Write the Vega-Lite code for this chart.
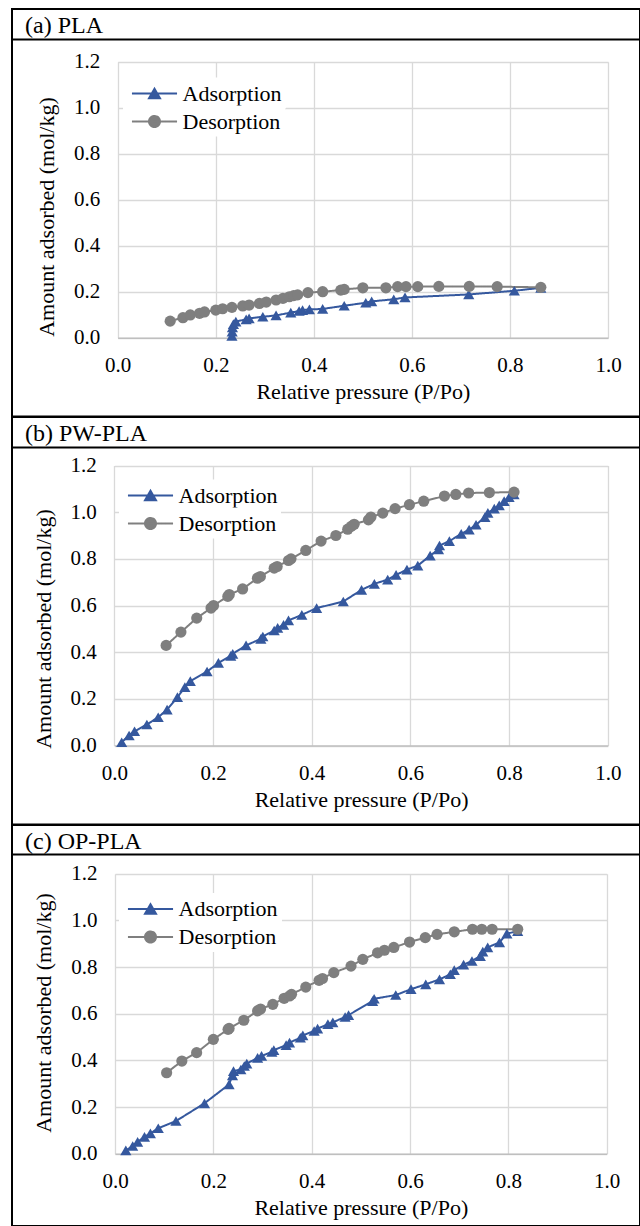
{
  "$schema": "https://vega.github.io/schema/vega-lite/v6.json",
  "background": "white",
  "padding": {"left": 10, "top": 8, "right": 0, "bottom": 0},
  "bounds": "flush",
  "spacing": 0,
  "config": {
    "font": "Liberation Serif",
    "view": {"stroke": "black", "strokeWidth": 2},
    "axis": {
      "labelFlush": false,
      "labelOverlap": false,
      "labelFont": "Liberation Serif",
      "labelFontSize": 21,
      "labelColor": "black",
      "titleFont": "Liberation Serif",
      "titleFontSize": 22,
      "titleFontWeight": "normal",
      "titleColor": "black",
      "ticks": false,
      "gridColor": "#D9D9D9",
      "gridWidth": 1.3
    },
    "legend": {
      "labelFont": "Liberation Serif",
      "labelFontSize": 22,
      "labelColor": "black",
      "labelLimit": 400,
      "symbolSize": 484,
      "symbolStrokeWidth": 2,
      "symbolOffset": 15.5,
      "labelOffset": 16,
      "padding": 4,
      "fillColor": "white"
    }
  },
  "datasets": {
    "iso": [
      {"p":"a","s":"Adsorption","x":0.233,"y":0.008},
      {"p":"a","s":"Adsorption","x":0.2335,"y":0.026},
      {"p":"a","s":"Adsorption","x":0.234,"y":0.045},
      {"p":"a","s":"Adsorption","x":0.236,"y":0.059},
      {"p":"a","s":"Adsorption","x":0.241,"y":0.07},
      {"p":"a","s":"Adsorption","x":0.262,"y":0.08},
      {"p":"a","s":"Adsorption","x":0.268,"y":0.084},
      {"p":"a","s":"Adsorption","x":0.296,"y":0.091},
      {"p":"a","s":"Adsorption","x":0.323,"y":0.097},
      {"p":"a","s":"Adsorption","x":0.353,"y":0.109},
      {"p":"a","s":"Adsorption","x":0.37,"y":0.116},
      {"p":"a","s":"Adsorption","x":0.377,"y":0.12},
      {"p":"a","s":"Adsorption","x":0.391,"y":0.123},
      {"p":"a","s":"Adsorption","x":0.418,"y":0.125},
      {"p":"a","s":"Adsorption","x":0.462,"y":0.139},
      {"p":"a","s":"Adsorption","x":0.506,"y":0.152},
      {"p":"a","s":"Adsorption","x":0.518,"y":0.158},
      {"p":"a","s":"Adsorption","x":0.563,"y":0.167},
      {"p":"a","s":"Adsorption","x":0.586,"y":0.175},
      {"p":"a","s":"Adsorption","x":0.716,"y":0.188},
      {"p":"a","s":"Adsorption","x":0.809,"y":0.204},
      {"p":"a","s":"Adsorption","x":0.863,"y":0.217},
      {"p":"a","s":"Desorption","x":0.107,"y":0.072},
      {"p":"a","s":"Desorption","x":0.133,"y":0.087},
      {"p":"a","s":"Desorption","x":0.148,"y":0.099},
      {"p":"a","s":"Desorption","x":0.167,"y":0.106},
      {"p":"a","s":"Desorption","x":0.177,"y":0.112},
      {"p":"a","s":"Desorption","x":0.2,"y":0.12},
      {"p":"a","s":"Desorption","x":0.214,"y":0.126},
      {"p":"a","s":"Desorption","x":0.233,"y":0.132},
      {"p":"a","s":"Desorption","x":0.255,"y":0.138},
      {"p":"a","s":"Desorption","x":0.268,"y":0.142},
      {"p":"a","s":"Desorption","x":0.289,"y":0.149},
      {"p":"a","s":"Desorption","x":0.303,"y":0.155},
      {"p":"a","s":"Desorption","x":0.323,"y":0.164},
      {"p":"a","s":"Desorption","x":0.337,"y":0.171},
      {"p":"a","s":"Desorption","x":0.35,"y":0.178},
      {"p":"a","s":"Desorption","x":0.359,"y":0.183},
      {"p":"a","s":"Desorption","x":0.367,"y":0.186},
      {"p":"a","s":"Desorption","x":0.388,"y":0.196},
      {"p":"a","s":"Desorption","x":0.418,"y":0.2},
      {"p":"a","s":"Desorption","x":0.455,"y":0.207},
      {"p":"a","s":"Desorption","x":0.462,"y":0.21},
      {"p":"a","s":"Desorption","x":0.5,"y":0.217},
      {"p":"a","s":"Desorption","x":0.547,"y":0.217},
      {"p":"a","s":"Desorption","x":0.571,"y":0.222},
      {"p":"a","s":"Desorption","x":0.588,"y":0.222},
      {"p":"a","s":"Desorption","x":0.612,"y":0.222},
      {"p":"a","s":"Desorption","x":0.655,"y":0.223},
      {"p":"a","s":"Desorption","x":0.717,"y":0.223},
      {"p":"a","s":"Desorption","x":0.774,"y":0.222},
      {"p":"a","s":"Desorption","x":0.863,"y":0.219},
      {"p":"b","s":"Adsorption","x":0.015,"y":0.014},
      {"p":"b","s":"Adsorption","x":0.03,"y":0.043},
      {"p":"b","s":"Adsorption","x":0.041,"y":0.061},
      {"p":"b","s":"Adsorption","x":0.066,"y":0.09},
      {"p":"b","s":"Adsorption","x":0.089,"y":0.121},
      {"p":"b","s":"Adsorption","x":0.107,"y":0.154},
      {"p":"b","s":"Adsorption","x":0.128,"y":0.207},
      {"p":"b","s":"Adsorption","x":0.143,"y":0.25},
      {"p":"b","s":"Adsorption","x":0.154,"y":0.276},
      {"p":"b","s":"Adsorption","x":0.188,"y":0.317},
      {"p":"b","s":"Adsorption","x":0.211,"y":0.354},
      {"p":"b","s":"Adsorption","x":0.236,"y":0.384},
      {"p":"b","s":"Adsorption","x":0.24,"y":0.393},
      {"p":"b","s":"Adsorption","x":0.267,"y":0.429},
      {"p":"b","s":"Adsorption","x":0.297,"y":0.457},
      {"p":"b","s":"Adsorption","x":0.301,"y":0.467},
      {"p":"b","s":"Adsorption","x":0.324,"y":0.493},
      {"p":"b","s":"Adsorption","x":0.331,"y":0.504},
      {"p":"b","s":"Adsorption","x":0.343,"y":0.517},
      {"p":"b","s":"Adsorption","x":0.353,"y":0.536},
      {"p":"b","s":"Adsorption","x":0.38,"y":0.56},
      {"p":"b","s":"Adsorption","x":0.41,"y":0.589},
      {"p":"b","s":"Adsorption","x":0.464,"y":0.617},
      {"p":"b","s":"Adsorption","x":0.501,"y":0.667},
      {"p":"b","s":"Adsorption","x":0.527,"y":0.693},
      {"p":"b","s":"Adsorption","x":0.554,"y":0.711},
      {"p":"b","s":"Adsorption","x":0.571,"y":0.731},
      {"p":"b","s":"Adsorption","x":0.593,"y":0.754},
      {"p":"b","s":"Adsorption","x":0.615,"y":0.771},
      {"p":"b","s":"Adsorption","x":0.64,"y":0.814},
      {"p":"b","s":"Adsorption","x":0.657,"y":0.84},
      {"p":"b","s":"Adsorption","x":0.659,"y":0.857},
      {"p":"b","s":"Adsorption","x":0.679,"y":0.876},
      {"p":"b","s":"Adsorption","x":0.703,"y":0.907},
      {"p":"b","s":"Adsorption","x":0.719,"y":0.925},
      {"p":"b","s":"Adsorption","x":0.733,"y":0.946},
      {"p":"b","s":"Adsorption","x":0.751,"y":0.979},
      {"p":"b","s":"Adsorption","x":0.757,"y":0.997},
      {"p":"b","s":"Adsorption","x":0.77,"y":1.015},
      {"p":"b","s":"Adsorption","x":0.78,"y":1.029},
      {"p":"b","s":"Adsorption","x":0.79,"y":1.047},
      {"p":"b","s":"Adsorption","x":0.8,"y":1.064},
      {"p":"b","s":"Adsorption","x":0.81,"y":1.076},
      {"p":"b","s":"Desorption","x":0.105,"y":0.429},
      {"p":"b","s":"Desorption","x":0.135,"y":0.486},
      {"p":"b","s":"Desorption","x":0.167,"y":0.546},
      {"p":"b","s":"Desorption","x":0.196,"y":0.589},
      {"p":"b","s":"Desorption","x":0.201,"y":0.6},
      {"p":"b","s":"Desorption","x":0.23,"y":0.639},
      {"p":"b","s":"Desorption","x":0.233,"y":0.647},
      {"p":"b","s":"Desorption","x":0.26,"y":0.671},
      {"p":"b","s":"Desorption","x":0.29,"y":0.717},
      {"p":"b","s":"Desorption","x":0.296,"y":0.724},
      {"p":"b","s":"Desorption","x":0.324,"y":0.76},
      {"p":"b","s":"Desorption","x":0.33,"y":0.767},
      {"p":"b","s":"Desorption","x":0.353,"y":0.793},
      {"p":"b","s":"Desorption","x":0.358,"y":0.8},
      {"p":"b","s":"Desorption","x":0.388,"y":0.836},
      {"p":"b","s":"Desorption","x":0.419,"y":0.876},
      {"p":"b","s":"Desorption","x":0.449,"y":0.9},
      {"p":"b","s":"Desorption","x":0.473,"y":0.927},
      {"p":"b","s":"Desorption","x":0.48,"y":0.939},
      {"p":"b","s":"Desorption","x":0.486,"y":0.948},
      {"p":"b","s":"Desorption","x":0.515,"y":0.967},
      {"p":"b","s":"Desorption","x":0.52,"y":0.979},
      {"p":"b","s":"Desorption","x":0.544,"y":0.996},
      {"p":"b","s":"Desorption","x":0.569,"y":1.015},
      {"p":"b","s":"Desorption","x":0.598,"y":1.032},
      {"p":"b","s":"Desorption","x":0.627,"y":1.047},
      {"p":"b","s":"Desorption","x":0.669,"y":1.069},
      {"p":"b","s":"Desorption","x":0.692,"y":1.076},
      {"p":"b","s":"Desorption","x":0.718,"y":1.082},
      {"p":"b","s":"Desorption","x":0.76,"y":1.084},
      {"p":"b","s":"Desorption","x":0.81,"y":1.086},
      {"p":"c","s":"Adsorption","x":0.022,"y":0.014},
      {"p":"c","s":"Adsorption","x":0.036,"y":0.033},
      {"p":"c","s":"Adsorption","x":0.046,"y":0.051},
      {"p":"c","s":"Adsorption","x":0.06,"y":0.072},
      {"p":"c","s":"Adsorption","x":0.072,"y":0.087},
      {"p":"c","s":"Adsorption","x":0.088,"y":0.109},
      {"p":"c","s":"Adsorption","x":0.124,"y":0.14},
      {"p":"c","s":"Adsorption","x":0.182,"y":0.216},
      {"p":"c","s":"Adsorption","x":0.232,"y":0.297},
      {"p":"c","s":"Adsorption","x":0.239,"y":0.336},
      {"p":"c","s":"Adsorption","x":0.241,"y":0.354},
      {"p":"c","s":"Adsorption","x":0.256,"y":0.361},
      {"p":"c","s":"Adsorption","x":0.263,"y":0.376},
      {"p":"c","s":"Adsorption","x":0.268,"y":0.386},
      {"p":"c","s":"Adsorption","x":0.29,"y":0.411},
      {"p":"c","s":"Adsorption","x":0.298,"y":0.419},
      {"p":"c","s":"Adsorption","x":0.319,"y":0.436},
      {"p":"c","s":"Adsorption","x":0.323,"y":0.444},
      {"p":"c","s":"Adsorption","x":0.348,"y":0.465},
      {"p":"c","s":"Adsorption","x":0.355,"y":0.476},
      {"p":"c","s":"Adsorption","x":0.377,"y":0.497},
      {"p":"c","s":"Adsorption","x":0.382,"y":0.507},
      {"p":"c","s":"Adsorption","x":0.405,"y":0.526},
      {"p":"c","s":"Adsorption","x":0.412,"y":0.536},
      {"p":"c","s":"Adsorption","x":0.433,"y":0.555},
      {"p":"c","s":"Adsorption","x":0.443,"y":0.563},
      {"p":"c","s":"Adsorption","x":0.468,"y":0.586},
      {"p":"c","s":"Adsorption","x":0.475,"y":0.594},
      {"p":"c","s":"Adsorption","x":0.524,"y":0.654},
      {"p":"c","s":"Adsorption","x":0.527,"y":0.664},
      {"p":"c","s":"Adsorption","x":0.571,"y":0.68},
      {"p":"c","s":"Adsorption","x":0.602,"y":0.705},
      {"p":"c","s":"Adsorption","x":0.632,"y":0.726},
      {"p":"c","s":"Adsorption","x":0.66,"y":0.747},
      {"p":"c","s":"Adsorption","x":0.682,"y":0.769},
      {"p":"c","s":"Adsorption","x":0.69,"y":0.787},
      {"p":"c","s":"Adsorption","x":0.709,"y":0.81},
      {"p":"c","s":"Adsorption","x":0.726,"y":0.826},
      {"p":"c","s":"Adsorption","x":0.743,"y":0.847},
      {"p":"c","s":"Adsorption","x":0.748,"y":0.866},
      {"p":"c","s":"Adsorption","x":0.758,"y":0.884},
      {"p":"c","s":"Adsorption","x":0.782,"y":0.906},
      {"p":"c","s":"Adsorption","x":0.797,"y":0.943},
      {"p":"c","s":"Adsorption","x":0.819,"y":0.954},
      {"p":"c","s":"Desorption","x":0.105,"y":0.347},
      {"p":"c","s":"Desorption","x":0.136,"y":0.397},
      {"p":"c","s":"Desorption","x":0.166,"y":0.433},
      {"p":"c","s":"Desorption","x":0.2,"y":0.49},
      {"p":"c","s":"Desorption","x":0.23,"y":0.533},
      {"p":"c","s":"Desorption","x":0.232,"y":0.537},
      {"p":"c","s":"Desorption","x":0.262,"y":0.572},
      {"p":"c","s":"Desorption","x":0.29,"y":0.612},
      {"p":"c","s":"Desorption","x":0.296,"y":0.62},
      {"p":"c","s":"Desorption","x":0.321,"y":0.64},
      {"p":"c","s":"Desorption","x":0.344,"y":0.666},
      {"p":"c","s":"Desorption","x":0.355,"y":0.676},
      {"p":"c","s":"Desorption","x":0.359,"y":0.683},
      {"p":"c","s":"Desorption","x":0.388,"y":0.714},
      {"p":"c","s":"Desorption","x":0.415,"y":0.743},
      {"p":"c","s":"Desorption","x":0.422,"y":0.751},
      {"p":"c","s":"Desorption","x":0.445,"y":0.776},
      {"p":"c","s":"Desorption","x":0.48,"y":0.804},
      {"p":"c","s":"Desorption","x":0.504,"y":0.833},
      {"p":"c","s":"Desorption","x":0.534,"y":0.861},
      {"p":"c","s":"Desorption","x":0.548,"y":0.872},
      {"p":"c","s":"Desorption","x":0.567,"y":0.884},
      {"p":"c","s":"Desorption","x":0.599,"y":0.907},
      {"p":"c","s":"Desorption","x":0.631,"y":0.926},
      {"p":"c","s":"Desorption","x":0.655,"y":0.94},
      {"p":"c","s":"Desorption","x":0.69,"y":0.951},
      {"p":"c","s":"Desorption","x":0.727,"y":0.962},
      {"p":"c","s":"Desorption","x":0.746,"y":0.962},
      {"p":"c","s":"Desorption","x":0.767,"y":0.962},
      {"p":"c","s":"Desorption","x":0.819,"y":0.962}
    ],
    "labels": [
      {"p": "a", "t": "(a) PLA"},
      {"p": "b", "t": "(b) PW-PLA"},
      {"p": "c", "t": "(c) OP-PLA"}
    ]
  },
  "resolve": {
    "scale": {"x": "independent", "y": "independent", "color": "independent", "strokeDash": "independent"},
    "axis": {"x": "independent", "y": "independent"},
    "legend": {"color": "independent", "strokeDash": "independent"}
  },
  "vconcat": [
    {
      "width": 628, "height": 407.5,
      "resolve": {"axis": {"x": "independent"}},
      "layer": [
        {
          "data": {"name": "labels"},
          "transform": [{"filter": "datum.p === 'a'"}],
          "mark": {"type": "text", "align": "left", "baseline": "alphabetic", "fontSize": 24, "font": "Liberation Serif", "color": "black"},
          "encoding": {
            "text": {"field": "t", "type": "nominal"},
            "x": {"datum": -0.18907, "type": "quantitative", "axis": null},
            "y": {"datum": 1.32609, "type": "quantitative"}
          }
        },
        {
          "data": {"name": "labels"},
          "transform": [{"filter": "datum.p === 'a'"}],
          "mark": {"type": "rule", "color": "black", "strokeWidth": 2},
          "encoding": {"y": {"datum": 1.2965, "type": "quantitative"}}
        },
        {
          "data": {"name": "iso"},
          "transform": [{"filter": "datum.p === 'a'"}],
          "mark": {"type": "line", "strokeWidth": 2},
          "encoding": {
            "x": {"field": "x", "type": "quantitative",
              "scale": {"domain": [0, 1], "range": [105.7, 596], "nice": false, "zero": false},
              "axis": {"orient": "bottom", "offset": -78.8, "grid": false, "values": [0, 0.2, 0.4, 0.6, 0.8, 1], "format": ".1f", "domainColor": "#BFBFBF", "domainWidth": 1.5, "labelPadding": 17, "title": "Relative pressure (P/Po)", "titlePadding": 6}},
            "y": {"field": "y", "type": "quantitative",
              "scale": {"domain": [0, 1.2], "range": [328.7, 52.7], "nice": false, "zero": false},
              "axis": {"orient": "left", "offset": -105.7, "grid": true, "domain": false, "values": [0, 0.2, 0.4, 0.6, 0.8, 1, 1.2], "format": ".1f", "labelPadding": 18, "title": "Amount adsorbed (mol/kg)", "titlePadding": 15, "titleY": 207.5}},
            "color": {"field": "s", "type": "nominal",
              "scale": {"domain": ["Adsorption", "Desorption"], "range": ["#35589E", "#7F7F7F"]},
              "legend": {"orient": "none", "legendX": 111, "legendY": 68.5, "title": null, "values": ["Adsorption"],
                "symbolType": "M-2.05,0H2.05M0,-0.44L0.5,0.44L-0.5,0.44Z", "symbolFillColor": "#35589E", "symbolStrokeColor": "#35589E"}},
            "strokeDash": {"field": "s", "type": "nominal",
              "scale": {"domain": ["Desorption", "Adsorption"], "range": [[1, 0], [1, 0]]},
              "legend": {"orient": "none", "legendX": 111, "legendY": 96.5, "title": null, "values": ["Desorption"],
                "symbolType": "M-2.05,0H2.05M0.5,0A0.5,0.5,0,1,1,-0.5,0A0.5,0.5,0,1,1,0.5,0Z", "symbolFillColor": "#7F7F7F", "symbolStrokeColor": "#7F7F7F"}}
          }
        },
        {
          "data": {"name": "iso"},
          "transform": [{"filter": "datum.p === 'a' && datum.s === 'Adsorption'"}],
          "mark": {"type": "point", "shape": "triangle-up", "filled": true, "opacity": 1, "size": 125, "color": "#35589E"},
          "encoding": {
            "x": {"field": "x", "type": "quantitative",
              "axis": {"orient": "top", "grid": true, "labels": false, "ticks": false, "domain": false, "title": null, "values": [0, 0.2, 0.4, 0.6, 0.8, 1]}},
            "y": {"field": "y", "type": "quantitative"}
          }
        },
        {
          "data": {"name": "iso"},
          "transform": [{"filter": "datum.p === 'a' && datum.s === 'Desorption'"}],
          "mark": {"type": "point", "shape": "circle", "filled": true, "opacity": 1, "size": 125, "color": "#7F7F7F"},
          "encoding": {
            "x": {"field": "x", "type": "quantitative", "axis": null},
            "y": {"field": "y", "type": "quantitative"}
          }
        }
      ]
    },
    {
      "width": 628, "height": 407.5,
      "resolve": {"axis": {"x": "independent"}},
      "layer": [
        {
          "data": {"name": "labels"},
          "transform": [{"filter": "datum.p === 'b'"}],
          "mark": {"type": "text", "align": "left", "baseline": "alphabetic", "fontSize": 24, "font": "Liberation Serif", "color": "black"},
          "encoding": {
            "text": {"field": "t", "type": "nominal"},
            "x": {"datum": -0.18095, "type": "quantitative", "axis": null},
            "y": {"datum": 1.30414, "type": "quantitative"}
          }
        },
        {
          "data": {"name": "labels"},
          "transform": [{"filter": "datum.p === 'b'"}],
          "mark": {"type": "rule", "color": "black", "strokeWidth": 2},
          "encoding": {"y": {"datum": 1.2771, "type": "quantitative"}}
        },
        {
          "data": {"name": "iso"},
          "transform": [{"filter": "datum.p === 'b'"}],
          "mark": {"type": "line", "strokeWidth": 2},
          "encoding": {
            "x": {"field": "x", "type": "quantitative",
              "scale": {"domain": [0, 1], "range": [102.3, 595.8], "nice": false, "zero": false},
              "axis": {"orient": "bottom", "offset": -79, "grid": false, "values": [0, 0.2, 0.4, 0.6, 0.8, 1], "format": ".1f", "domainColor": "#BFBFBF", "domainWidth": 1.5, "labelPadding": 17, "title": "Relative pressure  (P/Po)", "titlePadding": 6}},
            "y": {"field": "y", "type": "quantitative",
              "scale": {"domain": [0, 1.2], "range": [328.5, 48.5], "nice": false, "zero": false},
              "axis": {"orient": "left", "offset": -102.3, "grid": true, "domain": false, "values": [0, 0.2, 0.4, 0.6, 0.8, 1, 1.2], "format": ".1f", "labelPadding": 18, "title": "Amount adsorbed (mol/kg)", "titlePadding": 15, "titleY": 211.5}},
            "color": {"field": "s", "type": "nominal",
              "scale": {"domain": ["Adsorption", "Desorption"], "range": ["#35589E", "#7F7F7F"]},
              "legend": {"orient": "none", "legendX": 107, "legendY": 62.5, "title": null, "values": ["Adsorption"],
                "symbolType": "M-2.05,0H2.05M0,-0.44L0.5,0.44L-0.5,0.44Z", "symbolFillColor": "#35589E", "symbolStrokeColor": "#35589E"}},
            "strokeDash": {"field": "s", "type": "nominal",
              "scale": {"domain": ["Desorption", "Adsorption"], "range": [[1, 0], [1, 0]]},
              "legend": {"orient": "none", "legendX": 107, "legendY": 90.5, "title": null, "values": ["Desorption"],
                "symbolType": "M-2.05,0H2.05M0.5,0A0.5,0.5,0,1,1,-0.5,0A0.5,0.5,0,1,1,0.5,0Z", "symbolFillColor": "#7F7F7F", "symbolStrokeColor": "#7F7F7F"}}
          }
        },
        {
          "data": {"name": "iso"},
          "transform": [{"filter": "datum.p === 'b' && datum.s === 'Adsorption'"}],
          "mark": {"type": "point", "shape": "triangle-up", "filled": true, "opacity": 1, "size": 125, "color": "#35589E"},
          "encoding": {
            "x": {"field": "x", "type": "quantitative",
              "axis": {"orient": "top", "grid": true, "labels": false, "ticks": false, "domain": false, "title": null, "values": [0, 0.2, 0.4, 0.6, 0.8, 1]}},
            "y": {"field": "y", "type": "quantitative"}
          }
        },
        {
          "data": {"name": "iso"},
          "transform": [{"filter": "datum.p === 'b' && datum.s === 'Desorption'"}],
          "mark": {"type": "point", "shape": "circle", "filled": true, "opacity": 1, "size": 125, "color": "#7F7F7F"},
          "encoding": {
            "x": {"field": "x", "type": "quantitative", "axis": null},
            "y": {"field": "y", "type": "quantitative"}
          }
        }
      ]
    },
    {
      "width": 628, "height": 401,
      "resolve": {"axis": {"x": "independent"}},
      "layer": [
        {
          "data": {"name": "labels"},
          "transform": [{"filter": "datum.p === 'c'"}],
          "mark": {"type": "text", "align": "left", "baseline": "alphabetic", "fontSize": 24, "font": "Liberation Serif", "color": "black"},
          "encoding": {
            "text": {"field": "t", "type": "nominal"},
            "x": {"datum": -0.18304, "type": "quantitative", "axis": null},
            "y": {"datum": 1.30457, "type": "quantitative"}
          }
        },
        {
          "data": {"name": "labels"},
          "transform": [{"filter": "datum.p === 'c'"}],
          "mark": {"type": "rule", "color": "black", "strokeWidth": 2},
          "encoding": {"y": {"datum": 1.2823, "type": "quantitative"}}
        },
        {
          "data": {"name": "iso"},
          "transform": [{"filter": "datum.p === 'c'"}],
          "mark": {"type": "line", "strokeWidth": 2},
          "encoding": {
            "x": {"field": "x", "type": "quantitative",
              "scale": {"domain": [0, 1], "range": [103, 594.7], "nice": false, "zero": false},
              "axis": {"orient": "bottom", "offset": -72.3, "grid": false, "values": [0, 0.2, 0.4, 0.6, 0.8, 1], "format": ".1f", "domainColor": "#BFBFBF", "domainWidth": 1.5, "labelPadding": 17, "title": "Relative pressure (P/Po)", "titlePadding": 6}},
            "y": {"field": "y", "type": "quantitative",
              "scale": {"domain": [0, 1.2], "range": [328.7, 48.7], "nice": false, "zero": false},
              "axis": {"orient": "left", "offset": -103, "grid": true, "domain": false, "values": [0, 0.2, 0.4, 0.6, 0.8, 1, 1.2], "format": ".1f", "labelPadding": 18, "title": "Amount adsorbed (mol/kg)", "titlePadding": 15, "titleY": 187.5}},
            "color": {"field": "s", "type": "nominal",
              "scale": {"domain": ["Adsorption", "Desorption"], "range": ["#35589E", "#7F7F7F"]},
              "legend": {"orient": "none", "legendX": 107, "legendY": 68, "title": null, "values": ["Adsorption"],
                "symbolType": "M-2.05,0H2.05M0,-0.44L0.5,0.44L-0.5,0.44Z", "symbolFillColor": "#35589E", "symbolStrokeColor": "#35589E"}},
            "strokeDash": {"field": "s", "type": "nominal",
              "scale": {"domain": ["Desorption", "Adsorption"], "range": [[1, 0], [1, 0]]},
              "legend": {"orient": "none", "legendX": 107, "legendY": 96, "title": null, "values": ["Desorption"],
                "symbolType": "M-2.05,0H2.05M0.5,0A0.5,0.5,0,1,1,-0.5,0A0.5,0.5,0,1,1,0.5,0Z", "symbolFillColor": "#7F7F7F", "symbolStrokeColor": "#7F7F7F"}}
          }
        },
        {
          "data": {"name": "iso"},
          "transform": [{"filter": "datum.p === 'c' && datum.s === 'Adsorption'"}],
          "mark": {"type": "point", "shape": "triangle-up", "filled": true, "opacity": 1, "size": 125, "color": "#35589E"},
          "encoding": {
            "x": {"field": "x", "type": "quantitative",
              "axis": {"orient": "top", "grid": true, "labels": false, "ticks": false, "domain": false, "title": null, "values": [0, 0.2, 0.4, 0.6, 0.8, 1]}},
            "y": {"field": "y", "type": "quantitative"}
          }
        },
        {
          "data": {"name": "iso"},
          "transform": [{"filter": "datum.p === 'c' && datum.s === 'Desorption'"}],
          "mark": {"type": "point", "shape": "circle", "filled": true, "opacity": 1, "size": 125, "color": "#7F7F7F"},
          "encoding": {
            "x": {"field": "x", "type": "quantitative", "axis": null},
            "y": {"field": "y", "type": "quantitative"}
          }
        }
      ]
    }
  ]
}
